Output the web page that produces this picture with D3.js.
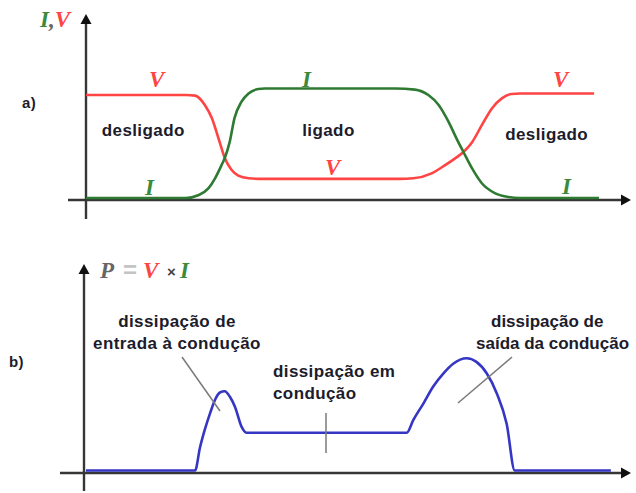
<!DOCTYPE html>
<html>
<head>
<meta charset="utf-8">
<script src="https://cdn.jsdelivr.net/npm/d3@7"></script>
<style>
  html, body { margin: 0; padding: 0; background: #fff; }
  svg { display: block; }
  .lbl { font-family: "Liberation Sans", Arial, sans-serif; font-weight: bold; font-size: 17px; fill: #1c1c2c; letter-spacing: 0.4px; }
  .sym { font-family: "Liberation Serif", "Times New Roman", serif; font-style: italic; font-weight: bold; font-size: 23px; }
</style>
</head>
<body>
<svg id="chart" width="636" height="493"></svg>
<script>
// Switching waveforms: time in arbitrary units, amplitudes normalised to 0..1

// a) voltage across the switch
const vTime = [0, 18.5, 20.2, 22.0, 23.3, 24.5, 25.7, 26.9, 28.2, 30.1, 32.0, 58.0, 60.6, 64.0, 66.5, 68.3, 69.9, 71.5, 73.3, 75.2, 77.0, 78.8, 80.4, 94.1];
const vValue = [0.94, 0.94, 0.935, 0.85, 0.73, 0.55, 0.365, 0.26, 0.205, 0.18, 0.175, 0.175, 0.18, 0.225, 0.30, 0.36, 0.42, 0.51, 0.665, 0.82, 0.91, 0.95, 0.955, 0.955];

// a) current through the switch
const iTime = [0, 18.5, 20.9, 22.7, 23.9, 25.1, 25.7, 26.6, 27.5, 28.8, 30.1, 31.9, 33.1, 57.2, 60.9, 63.4, 65.3, 67.1, 68.6, 69.9, 71.5, 73.3, 75.7, 78.2, 80.4, 95.0];
const iValue = [0, 0, 0.027, 0.09, 0.18, 0.30, 0.365, 0.51, 0.73, 0.88, 0.955, 0.995, 1.0, 1.0, 0.99, 0.94, 0.85, 0.70, 0.545, 0.42, 0.27, 0.135, 0.045, 0.01, 0, 0];

// b) dissipated power P = V x I
const pTime = [0, 20.2, 21.1, 22.0, 23.0, 23.9, 24.8, 25.7, 26.7, 27.6, 28.8, 29.7, 59.4, 60.6, 62.5, 64.3, 66.2, 68.0, 70.5, 72.3, 74.2, 76.1, 77.9, 79.4, 97.2];
const pValue = [0, 0, 0.19, 0.34, 0.48, 0.59, 0.65, 0.66, 0.61, 0.53, 0.365, 0.315, 0.315, 0.42, 0.56, 0.70, 0.81, 0.89, 0.935, 0.905, 0.81, 0.64, 0.39, 0, 0];

// Region names and annotations
const stateLabels = ["desligado", "ligado", "desligado"];
const stateTimes = [10.6, 44.9, 85.3];
const panelTags = ["a)", "b)"];

const svg = d3.select("#chart");

const x = d3.scaleLinear().domain([0, 100]).range([86, 626]);
const yA = d3.scaleLinear().domain([0, 1]).range([198, 88.5]);
const yB = d3.scaleLinear().domain([0, 1]).range([470.5, 350.5]);

const zip = (t, v) => t.map((d, k) => [d, v[k]]);

const AXIS = "#363636";
const RED = "#ff4444";
const GREEN = "#2f7a33";
const BLUE = "#3636c4";

// axis lines with arrow heads
function axes(x0, yZero, xLeft, xRight, yTop, yBottom) {
  const g = svg.append("g");
  g.append("line").attr("x1", xLeft).attr("x2", xRight - 6).attr("y1", yZero).attr("y2", yZero)
    .attr("stroke", AXIS).attr("stroke-width", 2.4);
  g.append("line").attr("x1", x0).attr("x2", x0).attr("y1", yBottom).attr("y2", yTop + 6)
    .attr("stroke", AXIS).attr("stroke-width", 2.4);
  g.append("path")
    .attr("d", `M${xRight},${yZero} L${xRight - 10},${yZero - 5.5} L${xRight - 10},${yZero + 5.5} Z`)
    .attr("fill", "#111");
  g.append("path")
    .attr("d", `M${x0},${yTop} L${x0 - 5.5},${yTop + 10} L${x0 + 5.5},${yTop + 10} Z`)
    .attr("fill", "#111");
}

axes(86, 200, 68, 631, 14, 219);
axes(84, 473, 60, 631, 264, 491);

const lineA = d3.line().x(d => x(d[0])).y(d => yA(d[1])).curve(d3.curveMonotoneX);
const lineB = d3.line().x(d => x(d[0])).y(d => yB(d[1])).curve(d3.curveMonotoneX);

svg.append("path").datum(zip(vTime, vValue)).attr("d", lineA)
  .attr("fill", "none").attr("stroke", RED).attr("stroke-width", 2.6);
svg.append("path").datum(zip(iTime, iValue)).attr("d", lineA)
  .attr("fill", "none").attr("stroke", GREEN).attr("stroke-width", 2.6);
svg.append("path").datum(zip(pTime, pValue)).attr("d", lineB)
  .attr("fill", "none").attr("stroke", BLUE).attr("stroke-width", 2.6);

// state names in panel a
svg.selectAll(".state").data(stateLabels).enter().append("text")
  .attr("class", "lbl").attr("text-anchor", "middle")
  .attr("x", (d, k) => x(stateTimes[k]))
  .attr("y", (d, k) => k === 2 ? 140 : 136)
  .text(d => d);

// panel tags
svg.append("text").attr("class", "lbl").attr("x", 22).attr("y", 108).style("font-size", "15px").text(panelTags[0]);
svg.append("text").attr("class", "lbl").attr("x", 9).attr("y", 367).style("font-size", "15px").text(panelTags[1]);

// curve symbols
const sym = (px, py, s, c) => svg.append("text").attr("class", "sym").attr("x", px).attr("y", py).attr("fill", c).text(s);
sym(149, 87, "V", RED);
sym(145, 195, "I", "#3c8a3c");
sym(302, 87, "I", "#3c8a3c");
sym(325, 175, "V", RED);
sym(553, 87, "V", RED);
sym(562, 194, "I", "#3c8a3c");

// axis title a
const t1 = svg.append("text").attr("class", "sym").attr("x", 40).attr("y", 27);
t1.append("tspan").attr("fill", "#3c8a3c").text("I");
t1.append("tspan").attr("fill", "#666").text(",");
t1.append("tspan").attr("fill", RED).text("V");

// axis title b
sym(100, 278, "P", "#666");
svg.append("text").attr("x", 123).attr("y", 278).attr("fill", "#c4c4c4")
  .style("font-family", "Liberation Sans, Arial, sans-serif").style("font-size", "24px").style("font-weight", "bold").text("=");
sym(143, 278, "V", RED);
svg.append("text").attr("x", 167).attr("y", 277).attr("fill", "#444")
  .style("font-family", "Liberation Sans, Arial, sans-serif").style("font-size", "15px").style("font-weight", "bold").text("×");
sym(180, 278, "I", "#3c8a3c");

// annotations in panel b
const note = (lines, xs, py, anchor, spacing) => {
  const t = svg.append("text").attr("class", "lbl").attr("text-anchor", anchor);
  if (spacing !== undefined) t.style("letter-spacing", spacing + "px");
  lines.forEach((s, k) => t.append("tspan").attr("x", xs[k]).attr("y", py + k * 21.5).text(s));
};
note(["dissipação de", "entrada à condução"], [177, 177], 327, "middle");
note(["dissipação em", "condução"], [273, 273], 377, "start");
note(["dissipação de", "saída da condução"], [491, 476], 327, "start", 0);

const leader = (x1, y1, x2, y2) => svg.append("line")
  .attr("x1", x1).attr("y1", y1).attr("x2", x2).attr("y2", y2)
  .attr("stroke", "#7a7a7a").attr("stroke-width", 1.5);
leader(182, 357, 220, 411);
leader(326, 413, 326, 453);
leader(512, 357, 458, 403);
</script>
</body>
</html>
